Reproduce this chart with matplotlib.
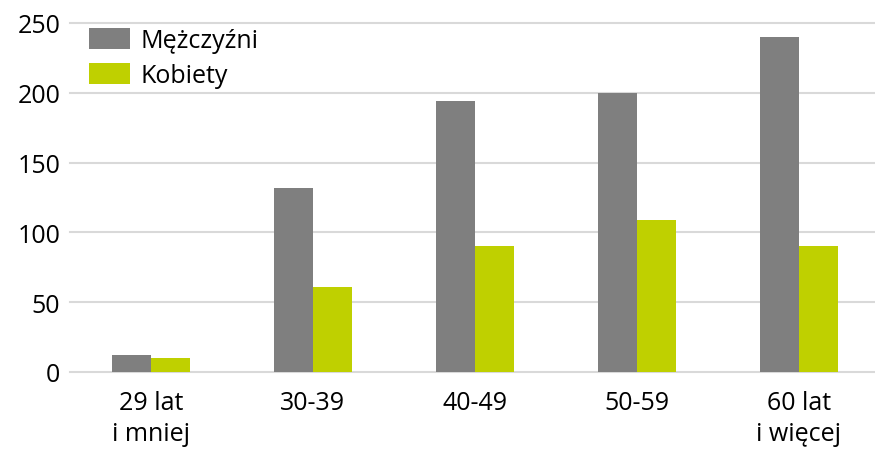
import matplotlib.pyplot as plt
import numpy as np

plt.rcParams['font.family'] = ['Open Sans', 'DejaVu Sans']

categories = ['29 lat\ni mniej', '30-39', '40-49', '50-59', '60 lat\ni więcej']
men = [12, 132, 194, 200, 240]
women = [10, 61, 90, 109, 90]

fig = plt.figure(figsize=(8.75, 4.6), dpi=100)
ax = fig.add_axes([70 / 875, 1 - 373 / 460, 1 - 70 / 875, (373 - 24) / 460])

x = np.arange(len(categories))
w = 0.239
ax.bar(x - w / 2, men, w, color='#7f7f7f', label='Mężczyźni', zorder=3)
ax.bar(x + w / 2, women, w, color='#bfd000', label='Kobiety', zorder=3)

ax.set_ylim(0, 250)
ax.set_xlim(-0.5, 4.47)
ax.set_yticks(range(0, 251, 50))
ax.yaxis.grid(True, color='#d9d9d9', linewidth=1.5, zorder=0)
for line in ax.get_ygridlines():
    line.set_clip_on(False)
ax.set_xticks(x)
ax.set_xticklabels(categories, linespacing=1.3)
ax.tick_params(axis='both', length=0, labelsize=18, colors='black')
ax.tick_params(axis='y', pad=7)
ax.tick_params(axis='x', pad=13)
for s in ax.spines.values():
    s.set_visible(False)

ax.legend(loc='upper left', bbox_to_anchor=(0.005, 1.03), frameon=False, fontsize=18,
          handlelength=1.65, handleheight=0.95, handletextpad=0.4, labelspacing=0.4,
          borderaxespad=0.2)

fig.savefig('out.png', dpi=100)
